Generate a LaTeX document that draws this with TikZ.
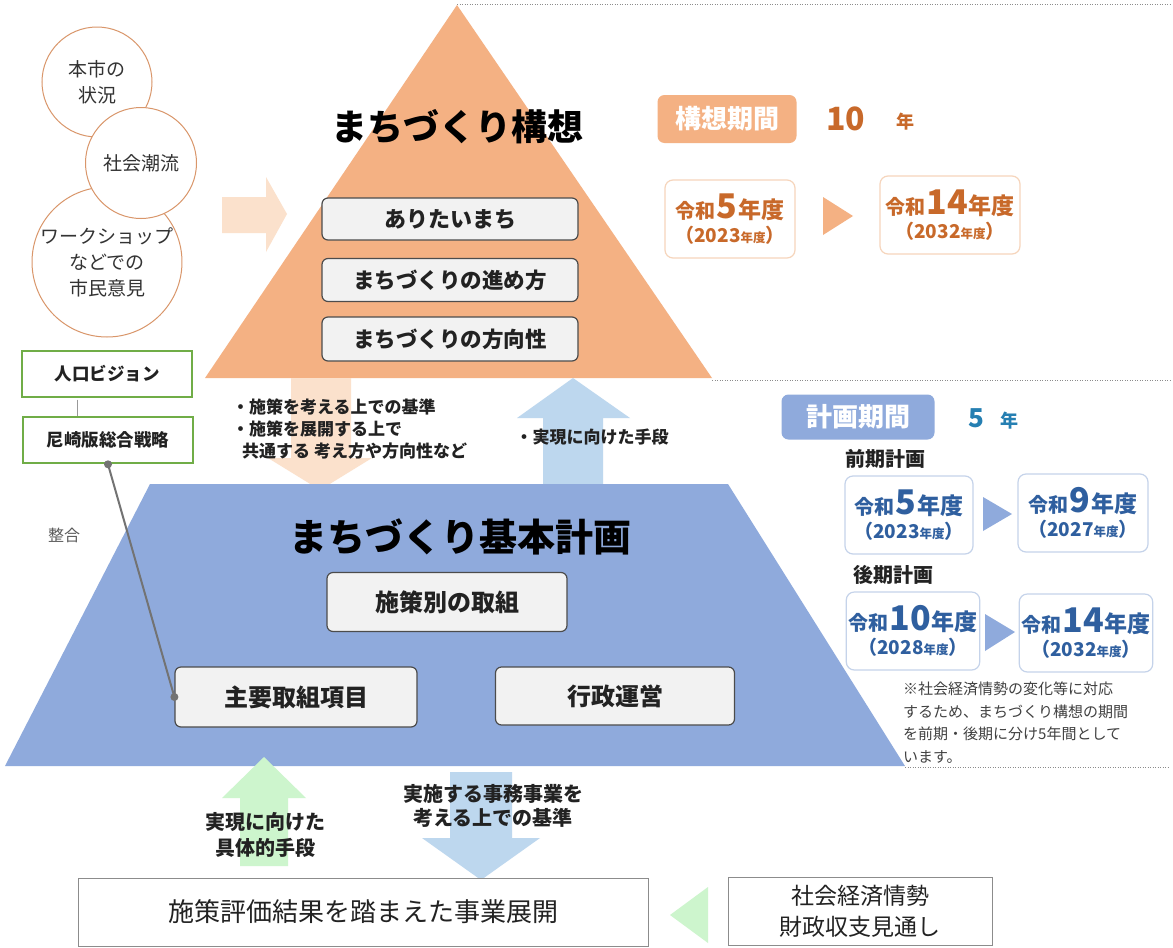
\documentclass[tikz,border=0pt]{standalone}
\usepackage{fontspec}
\setmainfont{Noto Sans CJK JP}
\definecolor{orgF}{HTML}{F4B183}
\definecolor{orgP}{HTML}{FBE1CC}
\definecolor{orgT}{HTML}{C8692A}
\definecolor{orgB}{HTML}{F6D5BC}
\definecolor{bluF}{HTML}{8FAADC}
\definecolor{bluP}{HTML}{BDD7EE}
\definecolor{bluT}{HTML}{2F5F9F}
\definecolor{bluB}{HTML}{C5D3EA}
\definecolor{grnB}{HTML}{70AD47}
\definecolor{grnP}{HTML}{CDF5CD}
\definecolor{boxF}{HTML}{F2F2F2}
\definecolor{txtG}{HTML}{222222}
\newcommand\fs[1]{\fontsize{#1}{#1}\selectfont}
\newcommand\fsl[2]{\fontsize{#1}{#2}\selectfont}
\newcommand\reiwa[2]{{\fs{20}令和}\hspace{1pt}{\fs{34}#1}\hspace{1pt}{\fs{23}年度}\\[4pt]{\fs{19}（#2{\fs{12.5}年度}）}}
\begin{document}
\begin{tikzpicture}[x=1pt,y=-1pt,
  innerbox/.style={draw=black!70,line width=1.2pt,fill=boxF,rounded corners=6pt,font=\fs{21.5}\bfseries,text=txtG},
  circbox/.style={circle,draw=orgT!70,line width=1pt,fill=white,align=center,font=\fsl{19}{26},text=black!80,inner sep=0pt},
  gbox/.style={draw=grnB,line width=2.6pt,fill=white,font=\fs{17.5}\bfseries,text=txtG,minimum width=170pt,minimum height=46pt},
  odate/.style={draw=orgB,line width=1.2pt,fill=white,rounded corners=8pt,align=center,text=orgT,font=\bfseries,minimum width=130pt,minimum height=78pt,inner sep=2pt},
  bdate/.style={draw=bluB,line width=1.2pt,fill=white,rounded corners=8pt,align=center,text=bluT,font=\bfseries,minimum width=128pt,minimum height=78pt,inner sep=2pt},
  plainbox/.style={draw=black!45,line width=0.8pt,fill=white},
  dotline/.style={draw=black!45,line width=0.8pt,dash pattern=on 1pt off 1.5pt}
]
\useasboundingbox[fill=white] (0,0) rectangle (1173,948);
% dotted separators
\draw[dotline] (457,4) -- (1170,4);
\draw[dotline] (712,380) -- (1170,380);
\draw[dotline] (905,767) -- (1170,767);
% pale orange right arrow
\fill[orgP] (222,197) -- (266,197) -- (266,177) -- (287,214) -- (266,252) -- (266,233) -- (222,233) -- cycle;
% orange triangle
\fill[orgF] (457,5) -- (712,378) -- (205,378) -- cycle;
% orange down arrow
\fill[orgP] (291,378) -- (351,378) -- (351,458) -- (372,458) -- (320,490) -- (268,458) -- (291,458) -- cycle;
% blue up arrow
\fill[bluP] (573,378) -- (630,418) -- (603,418) -- (603,484) -- (543,484) -- (543,418) -- (517,418) -- cycle;
% blue trapezoid
\fill[bluF] (150,484) -- (728,484) -- (905,766) -- (5,766) -- cycle;
% green up arrow
\fill[grnP] (264,757) -- (306,798) -- (288,798) -- (288,866) -- (240,866) -- (240,798) -- (222,798) -- cycle;
% blue down arrow
\fill[bluP] (450,772) -- (512,772) -- (512,838) -- (540,838) -- (481,880) -- (422,838) -- (450,838) -- cycle;
% green left triangle
\fill[grnP] (708,887) -- (708,943) -- (670,915) -- cycle;

% circles
\node[circbox,minimum size=110pt] (c1) at (97,82) {本市の\\状況};
\node[circbox,minimum size=138pt] (c3) at (107,262) {ワークショップ\\などでの\\市民意見};
\node[circbox,minimum size=111pt] (c2) at (141,163) {社会潮流};

% top titles and boxes
\node[font=\fs{36}\bfseries,text=black] (t1) at (457,127) {まちづくり構想};
\node[innerbox,minimum width=256pt,minimum height=42pt,font=\fs{22}\bfseries] (b1) at (450,219) {ありたいまち};
\node[innerbox,minimum width=256pt,minimum height=43pt] (b2) at (450,280) {まちづくりの進め方};
\node[innerbox,minimum width=256pt,minimum height=44pt] (b3) at (450,339) {まちづくりの方向性};

% green boxes
\node[gbox] (jinko) at (107,374) {人口ビジョン};
\node[gbox] (senryaku) at (108,440) {尼崎版総合戦略};
\draw[draw=black!40,line width=0.8pt] (jinko.south) ++(-30,1.3) coordinate (jl) -- (jl |- senryaku.north);
\node[font=\fs{16},text=black!65] (seigo) at (64,535) {整合};

% middle texts
\node[anchor=north west,align=left,font=\fs{17}\bfseries,text=txtG,inner sep=0pt] (mt1) at (232,399) {・施策を考える上での基準\\[5pt]・施策を展開する上で\\[5pt]\hspace{10pt}共通する 考え方や方向性など};
\node[font=\fs{17}\bfseries,text=txtG] (mt2) at (592,437) {・実現に向けた手段};

% lower titles and boxes
\node[font=\fs{38}\bfseries,text=black] (t2) at (460,537) {まちづくり基本計画};
\node[innerbox,minimum width=240pt,minimum height=59pt,font=\fs{24}\bfseries] (s1) at (447,602) {施策別の取組};
\node[innerbox,minimum width=242pt,minimum height=60pt,font=\fs{24}\bfseries] (s2) at (296,697) {主要取組項目};
\node[innerbox,minimum width=239pt,minimum height=58pt,font=\fs{24}\bfseries] (s3) at (615,696) {行政運営};
\draw[draw=black!55,line width=2pt] (senryaku.south) -- (s2.west);
\fill[black!55] (senryaku.south) circle (4pt);
\fill[black!55] (s2.west) circle (4pt);

% bottom texts
\node[align=center,font=\fsl{20}{26}\bfseries,text=txtG] (bt1) at (265,835) {実現に向けた\\具体的手段};
\node[align=center,font=\fsl{20}{24}\bfseries,text=txtG] (bt2) at (493,806) {実施する事務事業を\\考える上での基準};
\node[plainbox,minimum width=570pt,minimum height=68pt,font=\fs{26},text=txtG] (jigyo) at (363,912) {施策評価結果を踏まえた事業展開};
\node[plainbox,minimum width=264pt,minimum height=68pt,align=center,font=\fsl{23}{31},text=txtG] (shakai) at (860,911) {社会経済情勢\\財政収支見通し};

% right: kousou kikan
\node[fill=orgF,rounded corners=7pt,minimum width=139pt,minimum height=48pt,text=white,font=\fs{26}\bfseries] (kk) at (727,119) {構想期間};
\node[anchor=west,text=orgT,font=\fs{32}\bfseries,inner sep=0pt] (ten) at (826,119) {10};
\node[anchor=west,text=orgT,font=\fs{18}\bfseries,inner sep=0pt] (tennen) at (896,122) {年};
\node[odate] (od1) at (730,219) {\reiwa{5}{2023}};
\node[odate,minimum width=140pt] (od2) at (950,215) {\reiwa{14}{2032}};
\fill[orgF] (823,197) -- (823,235) -- (853,216) -- cycle;

% right: keikaku kikan
\node[fill=bluF,rounded corners=7pt,minimum width=153pt,minimum height=45pt,text=white,font=\fs{26}\bfseries] (kp) at (858,417) {計画期間};
\node[anchor=west,text=bluT!80!cyan,font=\fs{26}\bfseries,inner sep=0pt] (five) at (968,418) {5};
\node[anchor=west,text=bluT!80!cyan,font=\fs{18}\bfseries,inner sep=0pt] (fivenen) at (1000,421) {年};
\node[font=\fs{20}\bfseries,text=txtG] (zenki) at (885,459) {前期計画};
\node[bdate] (bd1) at (909,515) {\reiwa{5}{2023}};
\node[bdate,minimum width=130pt] (bd2) at (1083,513) {\reiwa{9}{2027}};
\fill[bluF] (983,497) -- (983,531) -- (1012,514) -- cycle;
\node[font=\fs{20}\bfseries,text=txtG] (kouki) at (893,575) {後期計画};
\node[bdate,minimum width=130pt] (bd3) at (913,631) {\reiwa{10}{2028}};
\node[bdate] (bd4) at (1086,633) {\reiwa{14}{2032}};
\fill[bluF] (985,614) -- (985,651) -- (1015,632) -- cycle;
\node[anchor=north west,align=left,font=\fsl{15}{22.5},text=black!75,inner sep=0pt] (note) at (903,682) {※社会経済情勢の変化等に対応\\するため、まちづくり構想の期間\\を前期・後期に分け5年間として\\います。};
\end{tikzpicture}
\end{document}
